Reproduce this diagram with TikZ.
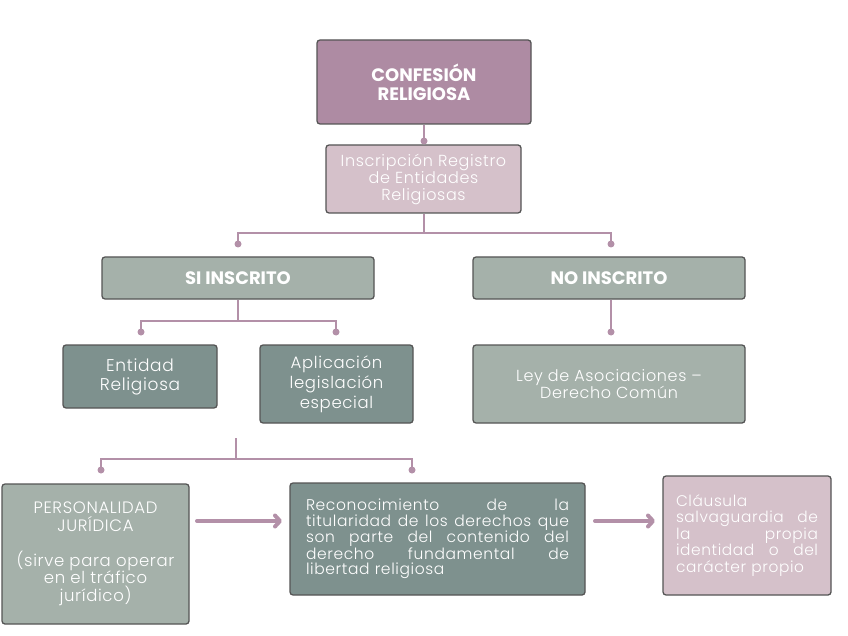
\documentclass[tikz,border=0pt]{standalone}
\usepackage{fontspec}
\setmainfont{Poppins}
\newfontfamily\bodyfont{Poppins}[UprightFont={* Light},LetterSpace=4]
\usetikzlibrary{arrows.meta, calc}
\tikzset{>=stealth}
\definecolor{mauve}{HTML}{AE8BA3}
\definecolor{blush}{HTML}{D5C1CA}
\definecolor{sage}{HTML}{A5B1AA}
\definecolor{slate}{HTML}{7E918E}
\definecolor{linkcol}{HTML}{B390A8}
\definecolor{edgecol}{HTML}{555555}
\tikzset{
  box/.style={draw=edgecol, line width=1.3pt, rounded corners=3pt, text=white, align=center, inner sep=0pt},
  link/.style={draw=linkcol, line width=2pt},
  flow/.style={draw=linkcol, line width=4pt, line cap=round, -{Straight Barb[length=5pt,width=11pt,round]}},
}
\newcommand{\body}[2]{\bodyfont\fontsize{#1}{#2}\selectfont}
\newcommand{\head}{\bfseries\fontsize{18}{19}\selectfont}

\begin{document}
\begin{tikzpicture}[x=1pt,y=-1pt]
	\useasboundingbox (0,0) rectangle (848,636);
	% boxes
	\node[box, fill=mauve, minimum width=214, minimum height=84, font=\head] (conf) at (424,82) {CONFESIÓN\\RELIGIOSA};
	\node[box, fill=blush, minimum width=195, minimum height=68, font=\body{16}{17}] (insc) at (423.5,179) {Inscripción Registro\\de Entidades\\Religiosas};
	\node[box, fill=sage, minimum width=272, minimum height=42, font=\head] (si) at (238,278) {SI INSCRITO};
	\node[box, fill=sage, minimum width=272, minimum height=42, font=\head] (no) at (609,278) {NO INSCRITO};
	\node[box, fill=slate, minimum width=154, minimum height=63, font=\body{17}{19}] (ent) at (140,376.5) {Entidad\\Religiosa};
	\node[box, fill=slate, minimum width=153, minimum height=78, font=\body{16.5}{20}] (apl) at (336.5,384) {Aplicación\\legislación\\especial};
	\node[box, fill=sage, minimum width=272, minimum height=78, font=\body{16}{17}] (ley) at (609,384) {Ley de Asociaciones –\\Derecho Común};
	\node[box, fill=sage, minimum width=187, minimum height=140, font=\body{16.5}{17.5}] (pers) at (95.5,554) {PERSONALIDAD\\JURÍDICA\\[17.5pt](sirve para operar\\en el tráfico\\jurídico)};
	\node[box, fill=slate, minimum width=295, minimum height=112, text width=263, align=left, font=\body{15.5}{15.5}] (reco) at (437.5,539) {Reconocimiento\hfill de\hfill la\\titularidad\hfill de\hfill los\hfill derechos\hfill que\\son\hfill parte\hfill del\hfill contenido\hfill del\\derecho\hfill fundamental\hfill de\\libertad religiosa};
	\node[box, fill=blush, minimum width=168, minimum height=119, text width=142, align=left, font=\body{15.4}{16.5}] (clau) at (747,535.5) {Cláusula\\salvaguardia\hfill de\\la\hfill propia\\identidad\hfill o\hfill del\\carácter propio};
	% joints and dots
	\coordinate (d-insc) at (424,141);
	\coordinate (d-si) at (238,244);
	\coordinate (d-no) at (611,244);
	\coordinate (d-ent) at (141,332);
	\coordinate (d-apl) at (336,332);
	\coordinate (d-ley) at (611,332);
	\coordinate (t3) at (236,438);
	\coordinate (d-pers) at (101,470);
	\coordinate (d-reco) at (412,470);
	\draw[link] (conf.south) -- (d-insc);
	\draw[link] (insc.south) -- ++(0,19) coordinate (j1);
	\draw[link] (d-si) |- (j1) -| (d-no);
	\draw[link] (si.south) -- ++(0,21) coordinate (j2);
	\draw[link] (d-ent) |- (j2) -| (d-apl);
	\draw[link] (no.south -| d-ley) -- (d-ley);
	\draw[link] (t3) -- ++(0,21) coordinate (j3);
	\draw[link] (d-pers) |- (j3) -| (d-reco);
	\foreach \d in {d-insc,d-si,d-no,d-ent,d-apl,d-ley,d-pers,d-reco}
		\fill[linkcol] (\d) circle (3.5);
	% arrows
	\coordinate (a1) at (197,521);
	\coordinate (a2) at (282,521);
	\coordinate (b1) at (595,521);
	\coordinate (b2) at (655,521);
	\draw[flow] (a1) -- (a2);
	\draw[flow] (b1) -- (b2);
\end{tikzpicture}
\end{document}
